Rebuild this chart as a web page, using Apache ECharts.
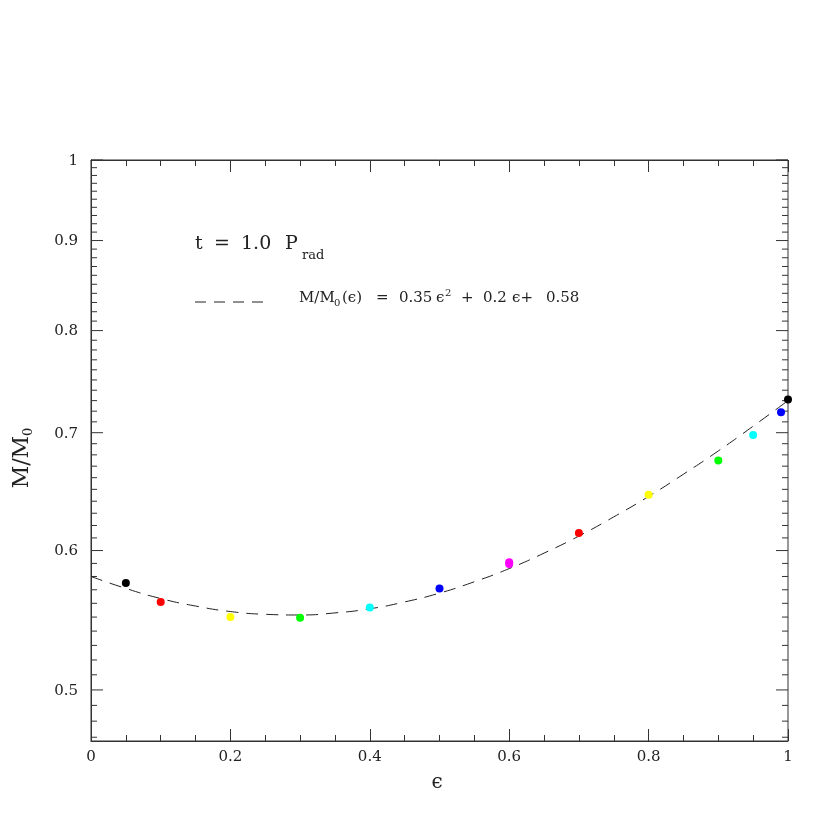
<!DOCTYPE html>
<html>
<head>
<meta charset="utf-8">
<script src="https://cdn.jsdelivr.net/npm/echarts@6/dist/echarts.min.js"></script>
<style>
html,body{margin:0;padding:0;background:#fff;}
#chart{width:830px;height:830px;}
</style>
</head>
<body>
<div id="chart"></div>
<script>
// ---- data ----
const epsilon   = [0.05, 0.10, 0.20, 0.30, 0.40, 0.50, 0.60, 0.60, 0.70, 0.80, 0.90, 0.95, 0.99, 1.00];
const massRatio = [0.575, 0.561, 0.550, 0.5495, 0.557, 0.571, 0.5908, 0.5895, 0.614, 0.6455, 0.675, 0.698, 0.719, 0.731];
const pointColors = ['#000000', '#ff0000', '#ffff00', '#00ff00', '#00ffff', '#0000ff', '#ff00ff', '#ff00ff',
                     '#ff0000', '#ffff00', '#00ff00', '#00ffff', '#0000ff', '#000000'];

// dashed fit curve
const fitEps  = [0, 0.05, 0.10, 0.15, 0.20, 0.25, 0.30, 0.35, 0.40, 0.45, 0.50, 0.55, 0.60, 0.65, 0.70, 0.75, 0.80, 0.85, 0.90, 0.95, 1.00];
const fitMass = [0.580, 0.571, 0.5635, 0.558, 0.554, 0.552, 0.5515, 0.553, 0.556, 0.561, 0.5675, 0.576, 0.586, 0.598, 0.6115, 0.627, 0.644, 0.663, 0.6835, 0.706, 0.730];

// axis ticks
const xTickLabels = [0, 0.2, 0.4, 0.6, 0.8, 1];
const yTickLabels = [0.5, 0.6, 0.7, 0.8, 0.9, 1];
const yMinorTicks = [];
for (let k = 47; k <= 100; k++) yMinorTicks.push(k / 100);

// annotation texts
const titleText = ['t', '=', '1.0', 'P', 'rad'];
const legendText = ['M/M', '0', '(ϵ)', '=', '0.35', 'ϵ', '2', '+', '0.2', 'ϵ+', '0.58'];

const yMin = 0.4677, yMax = 1.0;
const FONT = '"DejaVu Serif", "Liberation Serif", serif';
const AX = '#333333';
const TXT = '#222222';

const chart = echarts.init(document.getElementById('chart'), null, {renderer: 'canvas'});

const scatterData = epsilon.map((e, i) => ({value: [e, massRatio[i]], itemStyle: {color: pointColors[i], opacity: 1}}));
const fitData = fitEps.map((e, i) => [e, fitMass[i]]);
const yTickData = yMinorTicks.map(v => {
  const major = yTickLabels.some(m => Math.abs(m - v) < 1e-9);
  return [0, v, major ? 1 : 0];
});

// layout of annotation pieces: [x, y, fontSize]
const titleLayout = [[195, 244, 19], [214, 244, 19], [241, 244, 19], [285, 244, 19], [302, 256, 13]];
const legendLayout = [[299, 298, 15], [334, 303, 10], [342, 298, 15], [376, 298, 15], [399, 298, 15],
                      [436, 298, 15], [445, 293, 10], [461, 298, 15], [483, 298, 15], [512, 298, 15], [546, 298, 15]];

function pieces(texts, layout) {
  return texts.map((t, i) => ({
    type: 'text', x: layout[i][0], y: layout[i][1],
    style: {text: t, align: 'left', verticalAlign: 'middle', fontSize: layout[i][2], fontFamily: FONT, fill: TXT}
  }));
}

const xAxisBase = {
  type: 'value', min: 0, max: 1, interval: 0.2,
  axisLine: {show: true, lineStyle: {color: AX, width: 1}},
  axisTick: {show: true, inside: true, length: 12, lineStyle: {color: AX}},
  minorTick: {show: true, splitNumber: 4, length: 6, lineStyle: {color: AX}},
  splitLine: {show: false}
};

const option = {
  backgroundColor: '#ffffff',
  animation: false,
  grid: {left: 91, right: 42, top: 160, bottom: 89, show: true, borderColor: AX, borderWidth: 1, backgroundColor: 'transparent'},
  xAxis: [
    Object.assign({}, xAxisBase, {
      position: 'bottom',
      axisLabel: {show: true, margin: 9, fontSize: 15, fontFamily: FONT, color: TXT,
        formatter: v => xTickLabels.some(t => Math.abs(t - v) < 1e-9) ? String(+v.toFixed(1)) : ''}
    }),
    Object.assign({}, xAxisBase, {position: 'top', axisLabel: {show: false}})
  ],
  yAxis: {
    type: 'log', min: yMin, max: yMax, logBase: 10,
    axisLine: {show: true, lineStyle: {color: AX}},
    axisTick: {show: false}, axisLabel: {show: false}, splitLine: {show: false}, minorTick: {show: false}
  },
  series: [
    {
      type: 'custom', name: 'yticks', clip: false, silent: true,
      data: yTickData,
      encode: {x: 0, y: 1},
      renderItem: function (params, api) {
        const v = api.value(1);
        const major = api.value(2) === 1;
        const len = major ? 12 : 6;
        const pL = api.coord([0, v]);
        const pR = api.coord([1, v]);
        const children = [
          {type: 'line', shape: {x1: pL[0], y1: pL[1], x2: pL[0] + len, y2: pL[1]}, style: {stroke: AX, lineWidth: 1}},
          {type: 'line', shape: {x1: pR[0] - len, y1: pR[1], x2: pR[0], y2: pR[1]}, style: {stroke: AX, lineWidth: 1}}
        ];
        if (major) {
          children.push({type: 'text', style: {text: String(v), x: pL[0] - 13, y: pL[1] + 1, align: 'right', verticalAlign: 'middle',
            fontSize: 15, fontFamily: FONT, fill: TXT}});
        }
        return {type: 'group', children: children};
      }
    },
    {
      type: 'line', name: 'fit', data: fitData, smooth: true, showSymbol: false, symbol: 'none',
      lineStyle: {color: '#222', width: 1, type: [12, 8]}, z: 2
    },
    {
      type: 'scatter', name: 'points', data: scatterData, symbol: 'circle', symbolSize: 8, z: 3
    }
  ],
  graphic: [].concat(
    pieces(titleText, titleLayout),
    [{type: 'line', shape: {x1: 195, y1: 302, x2: 265, y2: 302}, style: {stroke: '#222', lineWidth: 1, lineDash: [11, 8]}}],
    pieces(legendText, legendLayout),
    [
      {type: 'text', x: 22, y: 458, rotation: Math.PI / 2, style: {
        text: 'M/M{sub|0}', align: 'center', verticalAlign: 'middle', fontSize: 22, fontFamily: FONT, fill: TXT,
        rich: {sub: {fontSize: 13, fontFamily: FONT, fill: TXT, padding: [14, 0, 0, 0]}}
      }},
      {type: 'text', x: 437, y: 783, style: {text: 'ϵ', align: 'center', verticalAlign: 'middle', fontSize: 20, fontFamily: FONT, fill: TXT}}
    ]
  )
};
chart.setOption(option);
</script>
</body>
</html>
